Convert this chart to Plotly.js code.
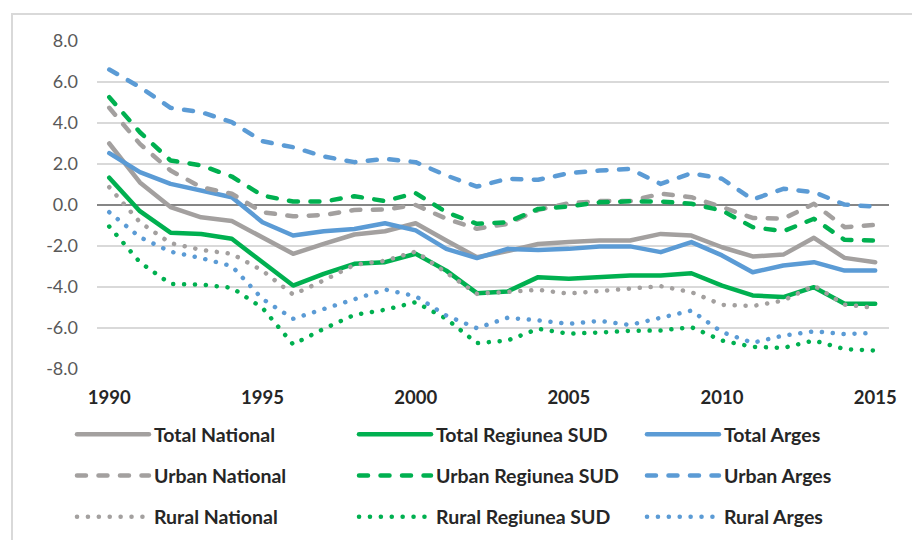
<!DOCTYPE html>
<html><head><meta charset="utf-8">
<script src="https://cdn.plot.ly/plotly-3.0.1.min.js"></script>
<style>
html,body{margin:0;padding:0;background:#fff;overflow:hidden;width:912px;height:540px;}
#frame{position:absolute;left:11px;top:13px;width:960px;height:600px;border-left:2px solid #d9d9d9;border-top:2px solid #d9d9d9;}
#chart{position:absolute;left:0;top:0;width:912px;height:540px;}
.js-line{stroke-linecap:round;stroke-linejoin:round;}
</style></head>
<body><div id="frame"></div><div id="chart"></div>
<script>
const years = [1990,1991,1992,1993,1994,1995,1996,1997,1998,1999,2000,2001,2002,2003,2004,2005,2006,2007,2008,2009,2010,2011,2012,2013,2014,2015];
const xTicks = [1990,1995,2000,2005,2010,2015];
const yTicks = [-8,-6,-4,-2,0,2,4,6,8];

const totalNational = [3.0,1.1,-0.1,-0.6,-0.78,-1.57,-2.38,-1.90,-1.44,-1.28,-0.89,-1.73,-2.55,-2.25,-1.90,-1.81,-1.73,-1.73,-1.41,-1.49,-2.06,-2.51,-2.42,-1.60,-2.58,-2.79];
const totalSud = [1.33,-0.3,-1.35,-1.41,-1.65,-2.79,-3.93,-3.36,-2.87,-2.79,-2.38,-3.2,-4.3,-4.22,-3.52,-3.6,-3.52,-3.44,-3.44,-3.33,-3.93,-4.41,-4.49,-4.01,-4.82,-4.82];
const totalArges = [2.53,1.6,1.03,0.71,0.38,-0.84,-1.49,-1.28,-1.17,-0.89,-1.24,-2.14,-2.59,-2.14,-2.19,-2.14,-2.02,-2.02,-2.3,-1.81,-2.46,-3.28,-2.95,-2.79,-3.2,-3.2];
const urbanNational = [4.74,2.98,1.68,0.87,0.55,-0.35,-0.55,-0.49,-0.24,-0.22,0.0,-0.67,-1.16,-0.92,-0.24,0.09,0.19,0.19,0.55,0.38,-0.1,-0.63,-0.67,0.06,-1.08,-0.97];
const urbanSud = [5.26,3.55,2.17,1.93,1.39,0.46,0.17,0.17,0.43,0.19,0.58,-0.35,-0.92,-0.84,-0.19,-0.07,0.13,0.18,0.17,0.06,-0.27,-1.08,-1.28,-0.67,-1.70,-1.73];
const urbanArges = [6.61,5.75,4.74,4.53,4.04,3.11,2.82,2.37,2.09,2.25,2.09,1.44,0.9,1.28,1.23,1.55,1.68,1.76,1.03,1.55,1.28,0.27,0.79,0.63,0.02,-0.08];
const ruralNational = [0.87,-0.84,-1.86,-2.19,-2.38,-3.2,-4.37,-3.68,-2.92,-2.72,-2.27,-3.28,-4.33,-4.24,-4.14,-4.32,-4.2,-4.07,-3.96,-4.25,-4.87,-4.93,-4.66,-3.93,-4.86,-5.02];
const ruralSud = [-1.05,-2.79,-3.85,-3.88,-4.04,-5.02,-6.8,-6.04,-5.36,-5.11,-4.74,-5.55,-6.74,-6.61,-6.04,-6.28,-6.22,-6.14,-6.12,-5.96,-6.61,-6.92,-6.97,-6.61,-7.03,-7.1];
const ruralArges = [-0.35,-1.57,-2.28,-2.59,-2.98,-4.58,-5.55,-5.08,-4.63,-4.12,-4.45,-5.39,-6.01,-5.5,-5.63,-5.8,-5.65,-5.85,-5.5,-5.15,-6.2,-6.72,-6.37,-6.16,-6.3,-6.24];

const GRAY = '#a3a09f', GREEN = '#00b050', BLUE = '#5b9bd5';
const DASH = '9px,12.5px', DOT = '0.1px,10.8px';

function tr(name, y, color, dash, legend) {
  return {type:'scatter', mode:'lines', x: years, y: y, name: name, legend: legend, legendgroup: name,
    line:{color: color, width: 4.5, dash: dash}, hoverinfo:'skip'};
}
const data = [
  tr('Total National', totalNational, GRAY, 'solid', 'legend'),
  tr('Total Regiunea SUD', totalSud, GREEN, 'solid', 'legend2'),
  tr('Total Arges', totalArges, BLUE, 'solid', 'legend3'),
  tr('Urban National', urbanNational, GRAY, DASH, 'legend'),
  tr('Urban Regiunea SUD', urbanSud, GREEN, DASH, 'legend2'),
  tr('Urban Arges', urbanArges, BLUE, DASH, 'legend3'),
  tr('Rural National', ruralNational, GRAY, DOT, 'legend'),
  tr('Rural Regiunea SUD', ruralSud, GREEN, DOT, 'legend2'),
  tr('Rural Arges', ruralArges, BLUE, DOT, 'legend3')
];
function leg(xp) {
  return {orientation:'v', x: xp, xanchor:'left', y: -0.3262, yanchor:'middle',
    itemwidth: 72, tracegroupgap: 13, traceorder:'grouped', bgcolor:'rgba(0,0,0,0)',
    font:{family:'Lato, sans-serif', size:19.5, color:'#262626', weight:'bold'}, itemclick:false, itemdoubleclick:false};
}
const layout = {
  width: 912, height: 540,
  margin:{l:97, r:23, t:41, b:171, autoexpand:false},
  paper_bgcolor:'rgba(0,0,0,0)', plot_bgcolor:'rgba(0,0,0,0)',
  showlegend: true,
  xaxis:{range:[1989.6,2015.45], tickvals: xTicks, ticktext: xTicks.map(String), showgrid:false, zeroline:false,
    showline:false, ticks:'', ticklabelstandoff: 15, automargin:false,
    tickfont:{family:'Lato, sans-serif', size:18.5, color:'#262626', weight:'bold'}},
  yaxis:{range:[-8,8], tickvals: yTicks, ticktext: yTicks.map(v=>v.toFixed(1)), showgrid:true, gridcolor:'#d9d9d9', gridwidth:1.5,
    zeroline:true, zerolinecolor:'#868686', zerolinewidth:2, showline:false, ticks:'', ticklabelstandoff: 18, automargin:false,
    tickfont:{family:'Lato, sans-serif', size:18, color:'#595959'}},
  legend: leg(-0.0316), legend2: leg(0.3245), legend3: leg(0.6881)
};
Plotly.newPlot('chart', data, layout, {staticPlot:true, displayModeBar:false});
</script></body></html>
